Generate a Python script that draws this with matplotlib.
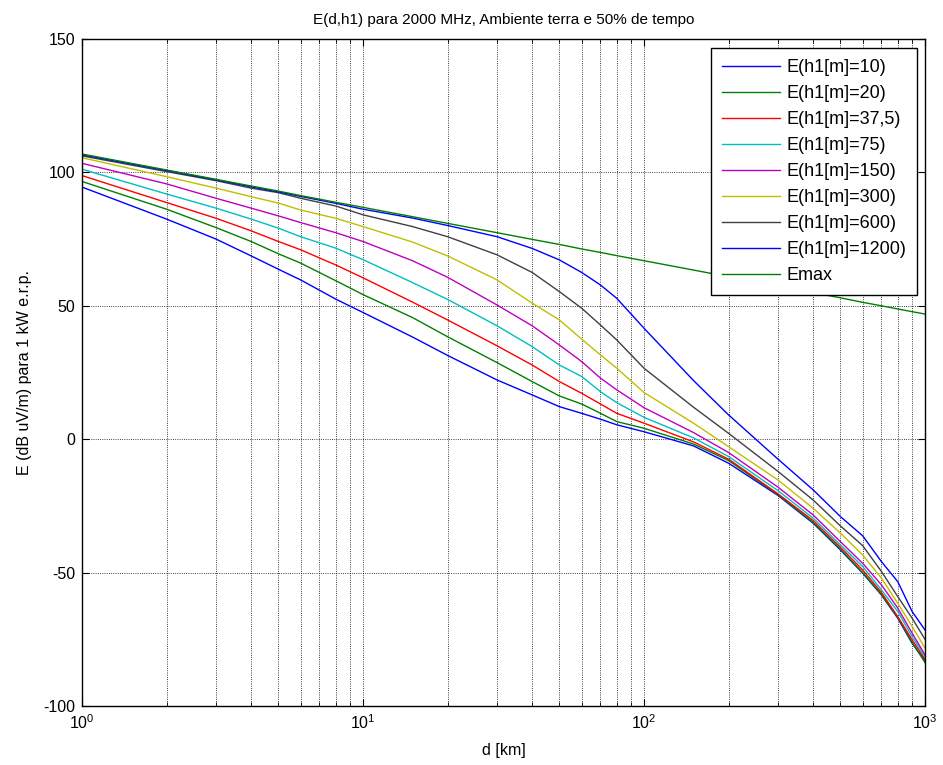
import matplotlib
matplotlib.use("Agg")
import matplotlib.pyplot as plt
from matplotlib.ticker import LogLocator, NullFormatter

plt.rcParams["font.family"] = ["Liberation Sans", "DejaVu Sans"]
plt.rcParams["mathtext.fontset"] = "custom"
plt.rcParams["mathtext.rm"] = "Liberation Sans"
plt.rcParams["axes.unicode_minus"] = False

# distance [km]
d = [1, 2, 3, 4, 5, 6, 8, 10, 15, 20, 30, 40, 50, 60, 70, 80, 100,
     150, 200, 300, 400, 500, 600, 700, 800, 900, 1000]

# field strength curves, dB uV/m for 1 kW e.r.p.
e10 = [94.5, 82.5, 75.0, 68.7, 63.7, 59.7, 52.5, 47.5, 38.3, 31.4, 22.2, 16.6, 12.2,
       9.7, 7.5, 5.4, 2.8, -2.5, -9.0, -21.1, -31.5, -41.5, -50.2, -58.4, -67.1, -76.5, -83.0]
e20 = [96.6, 86.2, 79.3, 74.1, 69.5, 66.0, 59.4, 54.2, 45.6, 38.4, 28.7, 21.6, 16.2,
       13.2, 9.7, 6.6, 4.1, -1.8, -8.0, -20.8, -31.2, -41.2, -50.0, -58.2, -66.8, -76.2, -83.7]
e37 = [98.8, 88.7, 82.8, 78.1, 74.1, 71.0, 65.3, 60.5, 51.4, 44.7, 35.0, 27.8, 21.6,
       17.2, 13.2, 9.7, 6.0, -1.0, -7.5, -20.5, -30.5, -40.5, -49.0, -57.5, -66.5, -75.2, -82.5]
e75 = [101.2, 91.9, 86.6, 82.5, 79.1, 75.9, 71.6, 67.3, 58.7, 52.4, 42.5, 34.7, 27.8,
       23.5, 17.8, 13.7, 8.2, 0.5, -6.5, -19.3, -29.6, -39.6, -47.7, -56.5, -64.6, -74.0, -81.5]
e150 = [103.4, 95.7, 90.3, 86.6, 83.7, 81.2, 77.4, 74.1, 66.9, 60.7, 50.3, 42.5, 35.3,
        29.1, 22.9, 18.5, 11.8, 2.5, -5.0, -18.0, -28.4, -38.4, -46.5, -54.6, -63.3, -72.7, -80.8]
e300 = [105.5, 98.4, 94.1, 90.9, 88.5, 85.9, 82.8, 79.7, 73.9, 68.7, 59.7, 51.0, 44.7,
        37.5, 31.6, 26.6, 17.5, 6.0, -2.8, -15.3, -25.9, -35.2, -43.4, -52.1, -61.5, -70.2, -78.3]
e600 = [106.2, 100.3, 96.9, 94.1, 92.4, 90.3, 87.4, 84.1, 79.7, 75.9, 69.1, 62.5, 55.3,
        49.1, 42.8, 37.2, 26.6, 12.0, 2.2, -12.1, -22.8, -32.5, -39.9, -49.6, -59.0, -67.1, -75.0]
e1200 = [106.6, 100.7, 97.2, 94.6, 92.7, 91.0, 88.4, 86.2, 82.9, 80.1, 75.9, 71.5, 67.2,
         62.5, 57.8, 52.8, 41.6, 22.0, 9.1, -7.5, -19.0, -29.0, -36.2, -45.9, -53.4, -64.6, -71.5]
emax = [106.9, 100.9, 97.4, 94.9, 93.0, 91.3, 88.8, 86.9, 83.4, 80.9, 77.4, 74.9, 73.0,
        71.3, 70.0, 68.8, 66.9, 63.4, 60.9, 57.4, 54.9, 53.0, 51.3, 50.0, 48.8, 47.8, 46.9]

labels = ["E(h1[m]=10)", "E(h1[m]=20)", "E(h1[m]=37,5)", "E(h1[m]=75)",
          "E(h1[m]=150)", "E(h1[m]=300)", "E(h1[m]=600)", "E(h1[m]=1200)", "Emax"]
series = [e10, e20, e37, e75, e150, e300, e600, e1200, emax]

# old matlab color order, wraps round after 7
colors = ["#0000ff", "#008000", "#ff0000", "#00bfbf", "#bf00bf", "#bfbf00",
          "#404040", "#0000ff", "#008000"]

fig = plt.figure(figsize=(9.43, 7.65), dpi=100)
ax = fig.add_axes([82 / 943, 1 - 706 / 765, (925 - 82) / 943, (706 - 39) / 765])

for y, lab, c in zip(series, labels, colors):
    ax.plot(d, y, color=c, lw=1.0, label=lab)

ax.set_xscale("log")
ax.set_xlim(1, 1000)
ax.set_ylim(-100, 150)
ax.set_yticks([-100, -50, 0, 50, 100, 150])
ax.xaxis.set_minor_locator(LogLocator(base=10, subs=range(2, 10)))
ax.xaxis.set_minor_formatter(NullFormatter())

ax.grid(True, which="major", color="k", linestyle=":", lw=0.6)
ax.grid(True, which="minor", axis="x", color="k", linestyle=":", lw=0.6)

ax.tick_params(which="both", direction="in", top=True, right=True, labelsize=11.5)
ax.tick_params(which="major", length=5, pad=5)
ax.tick_params(which="minor", length=3)
for s in ax.spines.values():
    s.set_linewidth(1.0)

ax.set_title("E(d,h1) para 2000 MHz, Ambiente terra e 50% de tempo", fontsize=11, pad=11)
ax.set_xlabel("d [km]", fontsize=11.5, labelpad=8)
ax.set_ylabel("E (dB uV/m) para 1 kW e.r.p.", fontsize=11.5, labelpad=8)

leg = ax.legend(loc="upper right", bbox_to_anchor=(917 / 943, 1 - 48 / 765),
                bbox_transform=fig.transFigure, fontsize=13, fancybox=False,
                framealpha=1, edgecolor="k", borderaxespad=0, handlelength=3.2,
                handletextpad=0.35, labelspacing=0.5, borderpad=0.6)
leg.get_frame().set_linewidth(1.0)

fig.savefig("out.png", dpi=100)
